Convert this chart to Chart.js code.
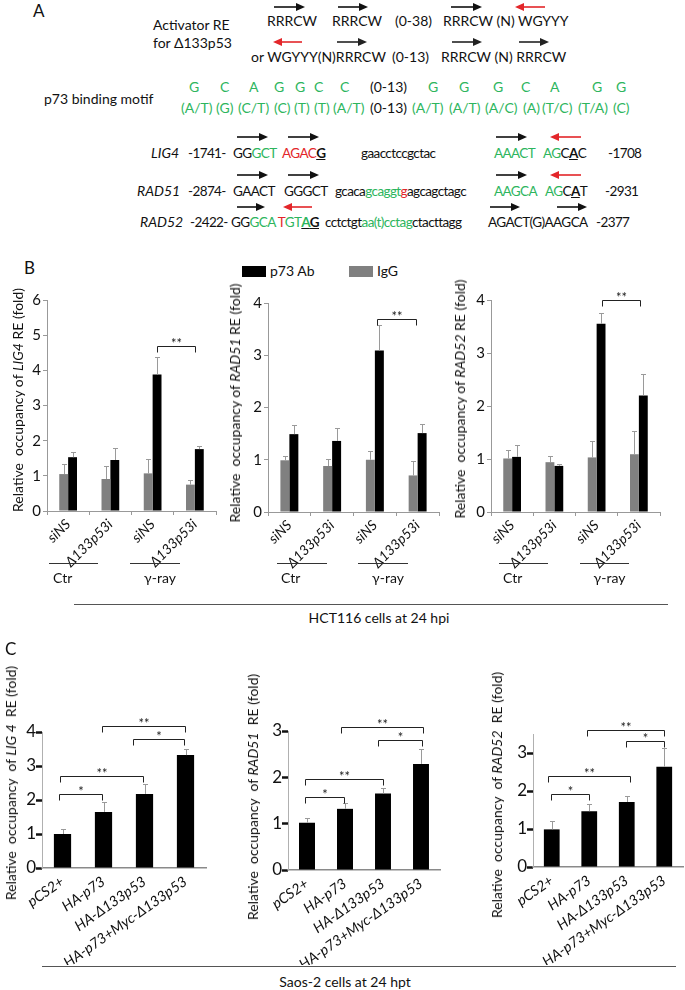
<!DOCTYPE html>
<html>
<head>
<meta charset="utf-8">
<script src="https://cdn.jsdelivr.net/npm/chart.js@4.4.1/dist/chart.umd.min.js"></script>
<style>
  body { margin: 0; background: #fff; }
  #fig { position: relative; width: 685px; height: 990px; overflow: hidden; font-family: Lato, "Open Sans", sans-serif; color: #111; }
  .t { position: absolute; white-space: pre; line-height: 18px; font-size: 14px; }
  .sq { font-size: 13.5px; letter-spacing: -0.6px; }
  .g { color: #2db55d; }
  .r { color: #e3262a; }
  .k { color: #111; }
  canvas { position: absolute; }
  .yt { position: absolute; white-space: pre; line-height: 16px; transform: translate(-50%, -50%) rotate(-90deg); }
  .hl { position: absolute; height: 0; border-top: 1.5px solid #333; }
  .pl { position: absolute; font-size: 17px; }
</style>
</head>
<body>
<div id="fig"></div>
<script>
// ---------- data ----------
var bLabels = ["siNS", "Δ133p53i", "siNS", "Δ133p53i"];
var cLabels = ["pCS2+", "HA-p73", "HA-Δ133p53", "HA-p73+Myc-Δ133p53"];

// panel B, HCT116 ChIP (IgG vs p73 Ab)
var lig4IgG = [1.05, 0.91, 1.07, 0.75];
var lig4IgGErr = [0.28, 0.37, 0.40, 0.12];
var lig4P73 = [1.53, 1.45, 3.88, 1.76];
var lig4P73Err = [0.14, 0.33, 0.49, 0.09];

var rad51IgG = [0.99, 0.88, 1.00, 0.70];
var rad51IgGErr = [0.08, 0.14, 0.16, 0.27];
var rad51P73 = [1.49, 1.36, 3.09, 1.51];
var rad51P73Err = [0.17, 0.24, 0.49, 0.18];

var rad52IgG = [1.01, 0.94, 1.03, 1.09];
var rad52IgGErr = [0.16, 0.11, 0.31, 0.44];
var rad52P73 = [1.04, 0.87, 3.55, 2.20];
var rad52P73Err = [0.22, 0.04, 0.20, 0.41];

// panel C, Saos-2
var cLig4 = [1.00, 1.65, 2.18, 3.32];
var cLig4Err = [0.15, 0.29, 0.29, 0.18];
var cRad51 = [1.02, 1.32, 1.65, 2.29];
var cRad51Err = [0.10, 0.13, 0.12, 0.32];
var cRad52 = [0.99, 1.47, 1.71, 2.64];
var cRad52Err = [0.21, 0.18, 0.16, 0.48];

// significance brackets: from / to in category units, level in y units
var bLig4Sig = [{ from: 2.1, to: 3.0, level: 4.69, mark: "**" }];
var bRad51Sig = [{ from: 2.05, to: 2.97, level: 3.69, mark: "**" }];
var bRad52Sig = [{ from: 2.12, to: 3.02, level: 4.0, mark: "**" }];
var cLig4Sig = [
  { from: -0.08, to: 0.97, level: 2.18, mark: "*" },
  { from: -0.05, to: 1.97, level: 2.70, mark: "**" },
  { from: 1.72, to: 2.97, level: 3.79, mark: "*" },
  { from: 0.97, to: 2.99, level: 4.18, mark: "**" }
];
var cRad51Sig = [
  { from: -0.05, to: 0.97, level: 1.58, mark: "*" },
  { from: -0.05, to: 2.0, level: 1.97, mark: "**" },
  { from: 1.87, to: 3.03, level: 2.81, mark: "*" },
  { from: 0.9, to: 3.05, level: 3.09, mark: "**" }
];
var cRad52Sig = [
  { from: -0.02, to: 0.99, level: 1.92, mark: "*" },
  { from: -0.1, to: 2.09, level: 2.40, mark: "**" },
  { from: 1.98, to: 2.99, level: 3.31, mark: "*" },
  { from: 0.94, to: 2.99, level: 3.60, mark: "**" }
];

var fig = document.getElementById("fig");

function txt(x, y, html, cls, size) {
  var d = document.createElement("div");
  d.className = "t " + (cls || "");
  d.style.left = x + "px";
  d.style.top = (y - 9) + "px";
  if (size) d.style.fontSize = size + "px";
  d.innerHTML = html;
  fig.appendChild(d);
  return d;
}
function ctxt(cx, y, html, size) {
  var d = txt(cx, y, html, "", size);
  d.style.transform = "translateX(-50%)";
  return d;
}
function hline(x1, x2, y, color) {
  var d = document.createElement("div");
  d.className = "hl";
  d.style.left = x1 + "px";
  d.style.top = y + "px";
  d.style.width = (x2 - x1) + "px";
  if (color) d.style.borderTopColor = color;
  fig.appendChild(d);
}
function ytitle(cx, cy, html, size) {
  var d = document.createElement("div");
  d.className = "yt";
  d.style.left = cx + "px";
  d.style.top = cy + "px";
  d.style.fontSize = size + "px";
  d.innerHTML = html;
  fig.appendChild(d);
}

// ---------- panel A (sequence motifs) ----------
var lab = document.createElement("div");
lab.className = "pl"; lab.style.left = "33px"; lab.style.top = "0px"; lab.textContent = "A";
fig.appendChild(lab);

txt(153, 25, "Activator RE");
txt(153, 43, "for Δ133p53");
txt(267, 21, "RRRCW"); txt(332, 21, "RRRCW"); txt(395, 21, "(0-38)"); txt(443, 21, "RRRCW (N) WGYYY");
txt(251, 57, "or WGYYY(N)RRRCW"); txt(392, 57, "(0-13)"); txt(441, 57, "RRRCW (N) RRRCW");

var motifTop = ["G", "C", "A", "G", "G", "C", "C", "(0-13)", "G", "G", "G", "C", "A", "G", "G"];
var motifTopX = [189, 220, 249, 274, 295, 314, 340, 370, 428, 459, 493, 521, 550, 592, 616];
motifTop.forEach(function (s, i) { txt(motifTopX[i], 87, s, s === "(0-13)" ? "k" : "g"); });
txt(44, 99, "p73 binding motif");
var motifBot = ["(A/T)", "(G)", "(C/T)", "(C)", "(T)", "(T)", "(A/T)", "(0-13)", "(A/T)", "(A/T)", "(A/C)", "(A)", "(T/C)", "(T/A)", "(C)"];
var motifBotX = [181, 216, 238, 274, 294, 314, 333, 370, 412, 449, 485, 523, 542, 578, 613];
motifBot.forEach(function (s, i) { txt(motifBotX[i], 108, s, s === "(0-13)" ? "k" : "g"); });

// LIG4
txt(151, 153, "<i>LIG4</i>"); txt(188, 153, "-1741-", "sq");
txt(233, 153, 'GG<span class="g">GCT</span>', "sq");
txt(282, 153, '<span class="r">AGAC</span><b><u>G</u></b>', "sq");
txt(361, 153, "gaacctccgctac", "sq");
txt(494, 153, "AAACT", "sq g");
txt(543, 153, '<span class="g">AG</span>C<b><u>A</u></b>C', "sq");
txt(608, 153, "-1708", "sq");
// RAD51
txt(137, 191, "<i>RAD51</i>"); txt(188, 191, "-2874-", "sq");
txt(233, 191, "GAACT", "sq"); txt(284, 191, "GGGCT", "sq");
txt(335, 191, 'gcaca<span class="g">gcaggt</span><span class="r">g</span>agcagctagc', "sq");
txt(494, 191, "AAGCA", "sq g");
txt(545, 191, '<span class="g">AG</span>C<b><u>A</u></b>T', "sq");
txt(605, 191, "-2931", "sq");
// RAD52
txt(140, 222, "<i>RAD52</i>"); txt(190, 222, "-2422-", "sq");
txt(231, 222, 'GG<span class="g">GCA</span> <span class="r">T</span><span class="g">GT</span><u><b class="g">A</b><b>G</b></u>', "sq");
txt(325, 222, 'cctctgt<span class="g">aa(t)cctag</span>ctacttagg', "sq");
txt(488, 222, "AGACT(G)AAGCA", "sq");
txt(596, 222, "-2377", "sq");

// arrows above the motifs: [x1, x2, y, colour, direction]
var arrows = [
  [274, 305, 7, "#111", "r"], [338, 368, 7, "#111", "r"], [451, 482, 7, "#111", "r"], [515, 545, 7, "#e3262a", "l"],
  [273, 302, 42, "#e3262a", "l"], [337, 367, 42, "#222", "r"], [452, 482, 42, "#222", "r"], [519, 549, 42, "#222", "r"],
  [237, 268, 137, "#111", "r"], [288, 319, 137, "#111", "r"], [496, 527, 137, "#111", "r"], [550, 581, 137, "#e3262a", "l"],
  [237, 268, 175, "#111", "r"], [288, 319, 175, "#111", "r"], [496, 527, 175, "#111", "r"], [550, 581, 175, "#e3262a", "l"],
  [237, 265, 207, "#111", "r"], [283, 312, 207, "#e3262a", "l"], [490, 520, 207, "#111", "r"], [557, 587, 207, "#111", "r"]
];
var svgNS = "http://www.w3.org/2000/svg";
var svg = document.createElementNS(svgNS, "svg");
svg.setAttribute("width", 685); svg.setAttribute("height", 240);
svg.style.position = "absolute"; svg.style.left = "0"; svg.style.top = "0";
arrows.forEach(function (a) {
  var x1 = a[0], x2 = a[1], y = a[2], col = a[3];
  var line = document.createElementNS(svgNS, "line");
  var head = document.createElementNS(svgNS, "polygon");
  if (a[4] === "r") {
    line.setAttribute("x1", x1); line.setAttribute("x2", x2 - 8);
    head.setAttribute("points", (x2 - 9) + "," + (y - 4) + " " + x2 + "," + y + " " + (x2 - 9) + "," + (y + 4));
  } else {
    line.setAttribute("x1", x1 + 8); line.setAttribute("x2", x2);
    head.setAttribute("points", (x1 + 9) + "," + (y - 4) + " " + x1 + "," + y + " " + (x1 + 9) + "," + (y + 4));
  }
  line.setAttribute("y1", y); line.setAttribute("y2", y);
  line.setAttribute("stroke", col); line.setAttribute("stroke-width", 1.6);
  head.setAttribute("fill", col);
  svg.appendChild(line); svg.appendChild(head);
});
fig.appendChild(svg);

// ---------- charts ----------
function place(left, top, w, h) {
  var c = document.createElement("canvas");
  c.width = w; c.height = h;
  c.style.left = left + "px"; c.style.top = top + "px";
  c.style.width = w + "px"; c.style.height = h + "px";
  fig.appendChild(c);
  return c;
}

// error whiskers + significance brackets
function marks(errs, brackets, errColor) {
  return {
    id: "marks",
    afterDatasetsDraw: function (chart) {
      var ctx = chart.ctx, x = chart.scales.x, y = chart.scales.y;
      ctx.save();
      ctx.strokeStyle = errColor;
      ctx.lineWidth = 1;
      errs.forEach(function (err, i) {
        var meta = chart.getDatasetMeta(i);
        meta.data.forEach(function (bar, j) {
          var v = chart.data.datasets[i].data[j];
          var top = Math.round(y.getPixelForValue(v + err[j])) + 0.5;
          var bx = Math.round(bar.x) + 0.5;
          ctx.beginPath();
          ctx.moveTo(bx, bar.y); ctx.lineTo(bx, top);
          ctx.moveTo(bx - 2.5, top); ctx.lineTo(bx + 2.5, top);
          ctx.stroke();
        });
      });
      ctx.strokeStyle = "#222";
      ctx.fillStyle = "#222";
      ctx.font = "13px Lato";
      ctx.textAlign = "center";
      ctx.textBaseline = "alphabetic";
      brackets.forEach(function (b) {
        var x1 = Math.round(x.getPixelForValue(b.from)) + 0.5;
        var x2 = Math.round(x.getPixelForValue(b.to)) + 0.5;
        var yy = Math.round(y.getPixelForValue(b.level)) + 0.5;
        ctx.beginPath();
        ctx.moveTo(x1, yy + 6); ctx.lineTo(x1, yy); ctx.lineTo(x2, yy); ctx.lineTo(x2, yy + 6);
        ctx.stroke();
        ctx.fillText(b.mark, (x1 + x2) / 2, yy + 1);
      });
      ctx.restore();
    }
  };
}

function barB(box, igg, iggErr, p73, p73Err, yMax, sig) {
  var cv = place(box.left, box.top, box.w, box.h);
  return new Chart(cv, {
    type: "bar",
    data: {
      labels: bLabels,
      datasets: [
        { label: "IgG", data: igg, backgroundColor: "#808080", barPercentage: 1, categoryPercentage: 0.42 },
        { label: "p73 Ab", data: p73, backgroundColor: "#000", barPercentage: 1, categoryPercentage: 0.42 }
      ]
    },
    options: {
      responsive: false,
      animation: false,
      devicePixelRatio: 1,
      layout: { padding: { top: box.pt, right: box.pr, left: 0, bottom: 0 } },
      plugins: { legend: { display: false }, tooltip: { enabled: false } },
      scales: {
        x: {
          grid: { drawOnChartArea: false, tickLength: 4, color: "#999" },
          border: { color: "#999" },
          ticks: { minRotation: 45, maxRotation: 45, padding: 1, color: "#111",
                   font: { family: "Lato", size: 14, style: "italic" } },
          afterFit: function (s) { s.height = box.xh; }
        },
        y: {
          min: 0, max: yMax,
          grid: { drawOnChartArea: false, tickLength: 4, color: "#999" },
          border: { color: "#999" },
          ticks: { stepSize: 1, padding: 2, color: "#111", font: { family: "Lato", size: 15 } },
          afterFit: function (s) { s.width = box.yw; }
        }
      }
    },
    plugins: [marks([iggErr, p73Err], sig, "#9a9a9a")]
  });
}

function barC(box, vals, errs, yMax, sig) {
  var cv = place(box.left, box.top, box.w, box.h);
  return new Chart(cv, {
    type: "bar",
    data: {
      labels: cLabels,
      datasets: [{ data: vals, backgroundColor: "#000", barPercentage: 1, categoryPercentage: 0.42 }]
    },
    options: {
      responsive: false,
      animation: false,
      devicePixelRatio: 1,
      layout: { padding: { top: box.pt, right: box.pr, left: 0, bottom: 0 } },
      plugins: { legend: { display: false }, tooltip: { enabled: false } },
      scales: {
        x: {
          grid: { drawOnChartArea: false, drawTicks: false },
          border: { color: "#8a8a8a", width: 1.5 },
          ticks: { minRotation: 35, maxRotation: 35, padding: 5, color: "#111",
                   font: { family: "Lato", size: 14.5, style: "italic" } },
          afterFit: function (s) { s.height = box.xh; }
        },
        y: {
          min: 0, max: yMax,
          grid: {
            drawOnChartArea: false, tickLength: 6, tickWidth: 2.5,
            tickColor: function (c) { return c.tick && c.tick.value % 1 ? "rgba(0,0,0,0)" : "#111"; }
          },
          border: { color: "#b0b0b0" },
          ticks: {
            stepSize: 1, padding: 0, color: "#111", font: { family: "Lato", size: 17 },
            callback: function (v) { return v % 1 ? "" : v; }
          },
          afterFit: function (s) { s.width = box.yw; }
        }
      }
    },
    plugins: [marks([errs], sig, "#9a9a9a")]
  });
}

// panel B
var bl = document.createElement("div");
bl.className = "pl"; bl.style.left = "24px"; bl.style.top = "257px"; bl.textContent = "B";
fig.appendChild(bl);

var legBox = function (x, col) {
  var d = document.createElement("div");
  d.style.cssText = "position:absolute;left:" + x + "px;top:266px;width:24px;height:11px;background:" + col;
  fig.appendChild(d);
};
legBox(242, "#000"); txt(270, 271, "p73 Ab");
legBox(349, "#808080"); txt(377, 271, "IgG");

barB({ left: 0, top: 280, w: 222, h: 290, pt: 20, pr: 6, yw: 47, xh: 59 },
     lig4IgG, lig4IgGErr, lig4P73, lig4P73Err, 6, bLig4Sig);
barB({ left: 226, top: 280, w: 218, h: 290, pt: 23, pr: 5, yw: 42, xh: 58 },
     rad51IgG, rad51IgGErr, rad51P73, rad51P73Err, 4, bRad51Sig);
barB({ left: 452, top: 280, w: 214, h: 290, pt: 20, pr: 6, yw: 39, xh: 58 },
     rad52IgG, rad52IgGErr, rad52P73, rad52P73Err, 4, bRad52Sig);

ytitle(18, 400, "Relative  occupancy of <i>LIG4</i> RE (fold)", 14);
ytitle(235, 403, "Relative  occupancy of <i>RAD51</i> RE (fold)", 14);
ytitle(460, 399, "Relative  occupancy of <i>RAD52</i> RE (fold)", 14);

// treatment groups under panel B
[[49, 98, 130, 180], [277, 327, 358, 408], [499, 548, 580, 629]].forEach(function (g) {
  hline(g[0], g[1], 563);
  hline(g[2], g[3], 563);
  txt(g[0] + 4, 578, "Ctr", "", 14);
  ctxt((g[2] + g[3]) / 2 + 5, 578, "γ-ray", 14);
});
hline(74, 668, 604, "#555");
ctxt(379, 618, "HCT116 cells at 24 hpi", 14);

// panel C
var cl = document.createElement("div");
cl.className = "pl"; cl.style.left = "5px"; cl.style.top = "638px"; cl.textContent = "C";
fig.appendChild(cl);

barC({ left: 0, top: 700, w: 212, h: 265, pt: 32, pr: 6, yw: 42, xh: 97 }, cLig4, cLig4Err, 4, cLig4Sig);
barC({ left: 222, top: 700, w: 224, h: 265, pt: 31, pr: 6, yw: 66, xh: 95 }, cRad51, cRad51Err, 3, cRad51Sig);
barC({ left: 466, top: 700, w: 219, h: 265, pt: 34, pr: 2, yw: 67, xh: 98 }, cRad52, cRad52Err, 3.5, cRad52Sig);

ytitle(11, 783, "Relative  occupancy  of <i>LIG 4</i>  RE (fold)", 14);
ytitle(253, 797, "Relative  occupancy  of <i>RAD51</i>  RE (fold)", 14);
ytitle(497, 795, "Relative  occupancy  of <i>RAD52</i>  RE (fold)", 14);

hline(42, 676, 966, "#555");
ctxt(345, 982, "Saos-2 cells at 24 hpt", 14);
</script>
</body>
</html>
